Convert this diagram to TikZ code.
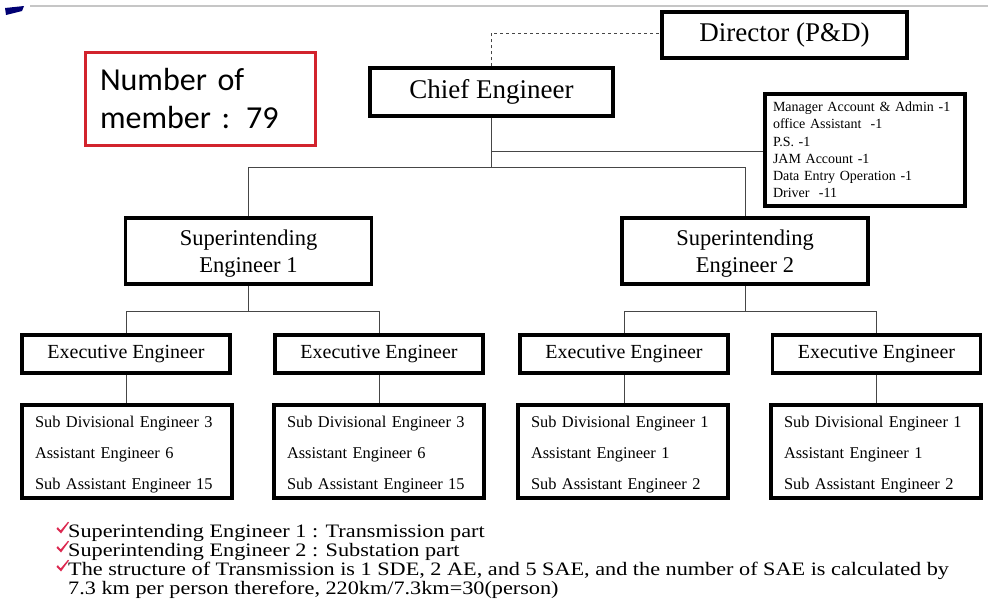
\documentclass[tikz,border=0pt]{standalone}
\usepackage{fontspec}
\setmainfont{Liberation Serif}
\newfontfamily\calib{Carlito}
\newfontfamily\widetimes[FakeStretch=1.17]{Liberation Serif}
\usetikzlibrary{calc}
\definecolor{boxred}{RGB}{210,35,45}
\definecolor{tickred}{RGB}{220,40,80}
\definecolor{wire}{RGB}{70,70,70}
\begin{document}
\begin{tikzpicture}[x=1pt,y=-1pt,
  box/.style={draw=black,line width=3.5pt,fill=white,inner sep=0pt,align=center},
  wire/.style={draw=wire,line width=1pt},
  notes/.style={anchor=base west,inner sep=0pt,font=\widetimes\fontsize{19}{20}\selectfont},
  checkmark/.pic={\fill[tickred] (0,0.5) -- (-4.5,-4.2) -- (-3.2,-5.8) -- (-0.3,-2.6)
      -- (7,-11.2) -- (8,-10.5) -- cycle;},
  listbox/.style={box,align=left,inner xsep=13pt,text width=184pt,minimum height=93pt,
    font=\fontsize{16.4}{31}\selectfont},
  eebox/.style={box,minimum width=208pt,minimum height=38pt,font=\fontsize{20}{22}\selectfont},
  sebox/.style={box,minimum width=246pt,minimum height=66pt,font=\fontsize{22.5}{27}\selectfont}]
\useasboundingbox (0,0) rectangle (988,605);
\fill[white] (0,0) rectangle (988,605);

% page header rule and corner mark
\draw[gray!45,line width=1.5pt] (30,6) -- (988,6);
\fill[blue!45!black] (5,8) -- (24,6) -- (22,11) -- (6,15) -- cycle;

% member count
\node[draw=boxred,line width=3pt,inner xsep=15pt,inner ysep=0pt,text width=200pt,minimum height=93pt,
  align=left,font=\calib\fontsize{32}{38}\selectfont] (count) at (200,98.5)
  {Number of\\member : 79};

% top levels
\node[box,minimum width=245pt,minimum height=46pt,font=\fontsize{27}{30}\selectfont]
  (dir) at (784.5,35) {Director (P\&D)};
\node[box,minimum width=243pt,minimum height=48pt,font=\fontsize{27}{30}\selectfont]
  (chief) at (491.5,92) {Chief Engineer};
\node[box,align=left,inner xsep=8pt,text width=184pt,minimum height=112pt,
  font=\fontsize{14}{17.2}\selectfont] (staff) at (865,150)
  {Manager Account \& Admin -1\\office Assistant~ -1\\P.S. -1\\JAM Account -1\\Data Entry Operation -1\\Driver~ -11};

\node[sebox] (se1) at (248.5,251) {\rule{0pt}{20pt}Superintending\\Engineer 1};
\node[sebox] (se2) at (745,251) {\rule{0pt}{20pt}Superintending\\Engineer 2};

\node[eebox] (ee1) at (126,354) {Executive Engineer};
\node[eebox] (ee2) at (379,354) {Executive Engineer};
\node[eebox] (ee3) at (624,354) {Executive Engineer};
\node[eebox] (ee4) at (876.5,354) {Executive Engineer};

\node[listbox] (sub1) at (127,451.5) {\rule{0pt}{17pt}Sub Divisional Engineer 3\\Assistant Engineer 6\\Sub Assistant Engineer 15};
\node[listbox] (sub2) at (379,451.5) {\rule{0pt}{17pt}Sub Divisional Engineer 3\\Assistant Engineer 6\\Sub Assistant Engineer 15};
\node[listbox] (sub3) at (623,451.5) {\rule{0pt}{17pt}Sub Divisional Engineer 1\\Assistant Engineer 1\\Sub Assistant Engineer 2};
\node[listbox] (sub4) at (876,451.5) {\rule{0pt}{17pt}Sub Divisional Engineer 1\\Assistant Engineer 1\\Sub Assistant Engineer 2};

% connectors
\draw[wire,dashed,line width=0.8pt] (chief.north) |- ($(dir.west)+(0,-2)$);
\coordinate (cj) at ($(chief.south)+(0,50)$);
\coordinate (sj) at ($(chief.south)+(0,34)$);
\draw[wire] (chief.south) -- (cj);
\draw[wire] (sj) -- (sj -| staff.west);
\draw[wire] (se1.north) |- (cj) -| (se2.north);
\coordinate (j1) at ($(se1.south)+(0,26)$);
\coordinate (j2) at ($(se2.south)+(0,26)$);
\draw[wire] (se1.south) -- (j1);
\draw[wire] (se2.south) -- (j2);
\draw[wire] (ee1.north) |- (j1) -| (ee2.north);
\draw[wire] (ee3.north) |- (j2) -| (ee4.north);
\foreach \e/\s in {ee1/sub1,ee2/sub2,ee3/sub3,ee4/sub4}
  \draw[wire] (\e.south) -- (\e.south |- \s.north);

% notes with check marks
\pic at (61,533) {checkmark};
\node[notes] (n1) at (68,537) {Superintending Engineer 1 : Transmission part};
\pic at (61,552) {checkmark};
\node[notes] (n2) at (68,556) {Superintending Engineer 2 : Substation part};
\pic at (61,571) {checkmark};
\node[notes] (n3) at (68,575) {The structure of Transmission is 1 SDE, 2 AE, and 5 SAE, and the number of SAE is calculated by};
\node[notes] (n4) at (68,594) {7.3 km per person therefore, 220km/7.3km=30(person)};
\end{tikzpicture}
\end{document}
